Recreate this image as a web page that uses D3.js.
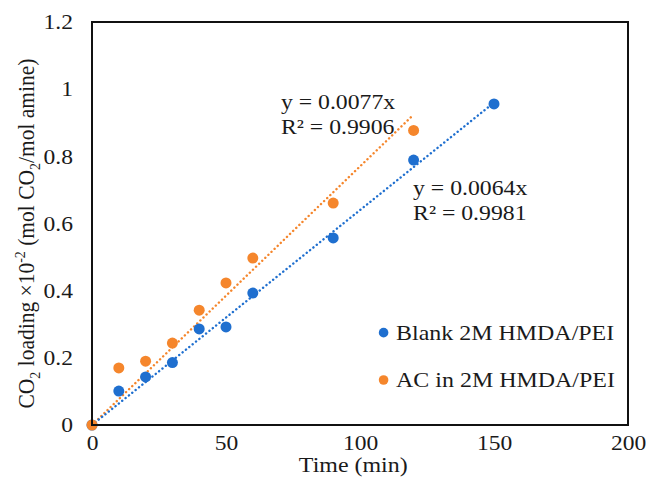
<!DOCTYPE html>
<html>
<head>
<meta charset="utf-8">
<script src="https://cdn.jsdelivr.net/npm/d3@7"></script>
<style>
  body { margin: 0; background: #fff; }
  svg text { font-family: "Liberation Serif", "DejaVu Serif", serif; fill: #1a1a1a; }
</style>
</head>
<body>
<svg id="chart"></svg>
<script>
// data
let times = [0, 10, 20, 30, 40, 50, 60, 90, 120]
let blankTimes = [0, 10, 20, 30, 40, 50, 60, 90, 120, 150]
let blankLoad = [0, 0.101, 0.143, 0.186, 0.286, 0.292, 0.393, 0.557, 0.789, 0.956]
let acLoad = [0, 0.170, 0.190, 0.244, 0.342, 0.423, 0.497, 0.661, 0.877]

let blankSlope = 0.0064
let acSlope = 0.0077

let xTicks = [0, 50, 100, 150, 200]
let yTicks = [0, 0.2, 0.4, 0.6, 0.8, 1, 1.2]

let blue = '#1f6fcf'
let orange = '#f5862c'
let serif = '"Liberation Serif", "DejaVu Serif", serif'
let fs = '21px'

let W = 654, H = 478
let m = {left: 92, right: 26, top: 22, bottom: 53}

let svg = d3.select('#chart').attr('width', W).attr('height', H)

let x = d3.scaleLinear().domain([0, 200]).range([m.left, W - m.right])
let y = d3.scaleLinear().domain([0, 1.2]).range([H - m.bottom, m.top])

// the source picture is a bit wider than tall, so text glyphs are stretched sideways
function widen(sel, k) {
	sel.each(function() {
		let len = this.getComputedTextLength()
		d3.select(this).attr('textLength', len * k).attr('lengthAdjust', 'spacingAndGlyphs')
	})
}

// axes (labels only, frame drawn after)
let xAx = svg.append('g')
	.attr('transform', `translate(0,${H - m.bottom})`)
	.call(d3.axisBottom(x).tickValues(xTicks).tickSize(0).tickPadding(25).tickFormat(d3.format('d')))
xAx.select('.domain').remove()
xAx.attr('font-family', serif).selectAll('text').attr('font-size', fs).attr('fill', '#1a1a1a').attr('dy', 0)
widen(xAx.selectAll('text'), 1.12)

let yAx = svg.append('g')
	.attr('transform', `translate(${m.left},0)`)
	.call(d3.axisLeft(y).tickValues(yTicks).tickSize(0).tickPadding(19).tickFormat(d => d === 0 ? '0' : d3.format('~g')(d)))
yAx.select('.domain').remove()
yAx.attr('font-family', serif).selectAll('text').attr('font-size', fs).attr('fill', '#1a1a1a')
widen(yAx.selectAll('text'), 1.12)

// trend lines
function trend(slope, xmax, color) {
	svg.append('line')
		.attr('x1', x(0)).attr('y1', y(0))
		.attr('x2', x(xmax)).attr('y2', y(slope * xmax))
		.attr('stroke', color)
		.attr('stroke-width', 2.4)
		.attr('stroke-linecap', 'round')
		.attr('stroke-dasharray', '0.1 4.2')
}
trend(acSlope, d3.max(times), orange)
trend(blankSlope, d3.max(blankTimes), blue)

// points
svg.append('g').selectAll('circle')
	.data(blankTimes.map((t, i) => [t, blankLoad[i]]))
	.enter().append('circle')
	.attr('cx', d => x(d[0])).attr('cy', d => y(d[1]))
	.attr('r', 5.5).attr('fill', blue)

svg.append('g').selectAll('circle')
	.data(times.map((t, i) => [t, acLoad[i]]))
	.enter().append('circle')
	.attr('cx', d => x(d[0])).attr('cy', d => y(d[1]))
	.attr('r', 5.5).attr('fill', orange)

// frame
svg.append('rect')
	.attr('x', x(0)).attr('y', y(1.2))
	.attr('width', x(200) - x(0)).attr('height', y(0) - y(1.2))
	.attr('fill', 'none').attr('stroke', '#111').attr('stroke-width', 2)

// equations
function eq(tx, ty, lines) {
	lines.forEach((l, i) => {
		let t = svg.append('text')
			.attr('x', x(tx)).attr('y', y(ty) + i * 25.5)
			.attr('font-size', fs).attr('font-family', serif).text(l)
		widen(t, 1.13)
	})
}
eq(70.5, 0.941, ['y = 0.0077x', 'R² = 0.9906'])
eq(119.8, 0.685, ['y = 0.0064x', 'R² = 0.9981'])

// legend
let legend = [['Blank 2M HMDA/PEI', blue, 0.275], ['AC in 2M HMDA/PEI', orange, 0.134]]
legend.forEach(l => {
	svg.append('circle').attr('cx', x(108.8)).attr('cy', y(l[2])).attr('r', 4.8).attr('fill', l[1])
	let t = svg.append('text').attr('x', x(108.8) + 12.5).attr('y', y(l[2])).attr('dy', '0.34em')
		.attr('font-size', fs).attr('font-family', serif).text(l[0])
	widen(t, 1.14)
})

// axis titles
let xt = svg.append('text')
	.attr('x', x(97.5)).attr('y', H - 6)
	.attr('text-anchor', 'middle').attr('font-size', fs).attr('font-family', serif)
	.text('Time (min)')
widen(xt, 1.14)

let yt = svg.append('text')
	.attr('transform', `translate(34,${(y(0) + y(1.2)) / 2 + 10}) scale(1.1,1) rotate(-90)`)
	.attr('text-anchor', 'middle').attr('font-size', '21.5px').attr('font-family', serif)
yt.append('tspan').text('CO')
yt.append('tspan').attr('font-size', '14px').attr('dy', 5).text('2')
yt.append('tspan').attr('dy', -5).text(' loading ×10')
yt.append('tspan').attr('font-size', '14px').attr('dy', -8).text('-2')
yt.append('tspan').attr('dy', 8).text(' (mol CO')
yt.append('tspan').attr('font-size', '14px').attr('dy', 5).text('2')
yt.append('tspan').attr('dy', -5).text('/mol amine)')
</script>
</body>
</html>
